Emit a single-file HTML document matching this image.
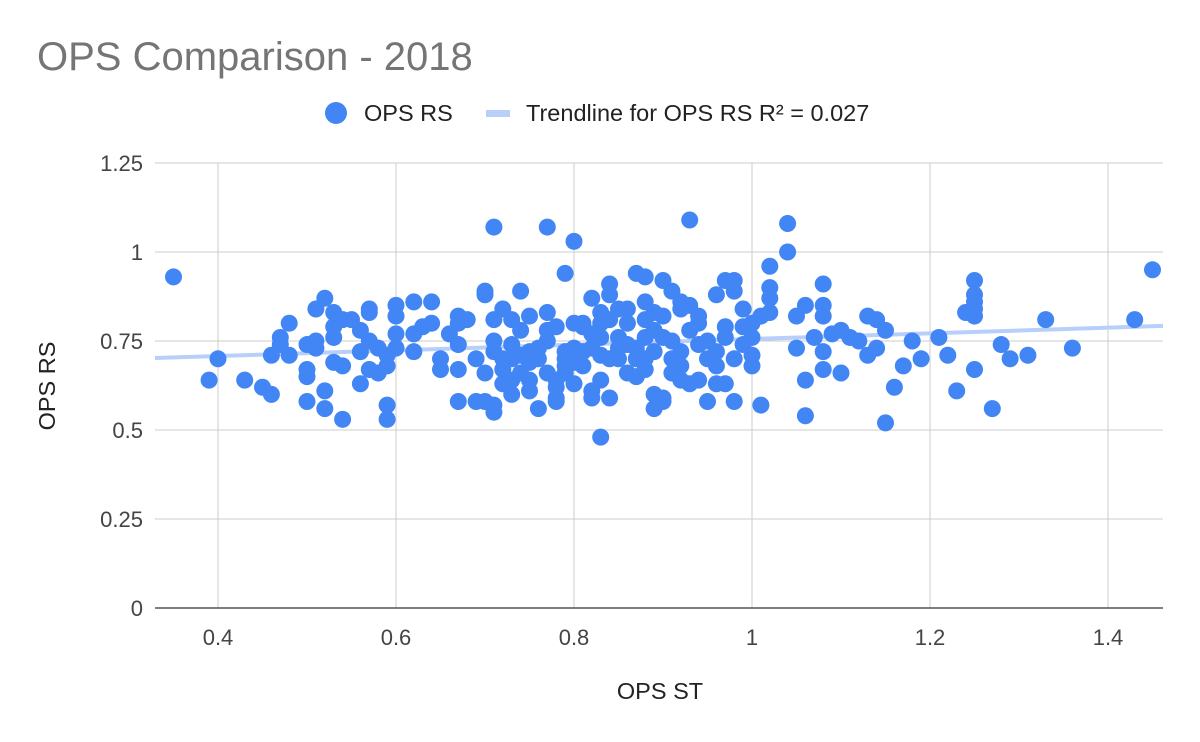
<!DOCTYPE html>
<html><head><meta charset="utf-8"><style>
html,body{margin:0;padding:0;background:#fff;}
svg{display:block;font-family:"Liberation Sans",Arial,sans-serif;}
</style></head><body>
<svg id="chart" width="1200" height="742" viewBox="0 0 1200 742">
<text x="37" y="70" font-size="40" fill="#757575">OPS Comparison - 2018</text>
<g>
<circle cx="336" cy="113" r="11" fill="#4285f4"/>
<text x="364" y="121" font-size="23.5" fill="#222">OPS RS</text>
<rect x="486" y="110" width="24" height="7" fill="#b7cffa"/>
<text x="526" y="121" font-size="23.5" fill="#222">Trendline for OPS RS R² = 0.027</text>
</g>
<g id="grid"></g>
<g id="trend"></g>
<g id="points"></g>
<g id="axes"></g>
<text x="660" y="699" font-size="23.5" text-anchor="middle" fill="#222">OPS ST</text>
<text transform="translate(55,386) rotate(-90)" font-size="23.5" text-anchor="middle" fill="#222">OPS RS</text>
</svg>
<script>
const xTicks=[0.4,0.6,0.8,1,1.2,1.4];
const xTickLabels=["0.4","0.6","0.8","1","1.2","1.4"];
const yTicks=[0,0.25,0.5,0.75,1,1.25];
const yTickLabels=["0","0.25","0.5","0.75","1","1.25"];
const trendSlope=0.0796;
const trendIntercept=0.676;
const opsST=[0.35,0.39,0.40,0.43,0.45,0.46,0.46,0.47,0.47,0.48,0.48,0.50,0.50,0.50,0.50,0.51,0.51,0.51,0.52,0.52,0.52,0.53,0.53,0.53,0.53,0.54,0.54,0.54,0.55,0.56,0.56,0.56,0.57,0.57,0.57,0.57,0.58,0.58,0.59,0.59,0.59,0.59,0.60,0.60,0.60,0.60,0.62,0.62,0.62,0.63,0.64,0.64,0.65,0.65,0.66,0.67,0.67,0.67,0.67,0.67,0.68,0.69,0.69,0.70,0.70,0.70,0.70,0.71,0.71,0.71,0.71,0.71,0.71,0.72,0.72,0.72,0.72,0.73,0.73,0.73,0.73,0.74,0.74,0.74,0.75,0.75,0.75,0.75,0.76,0.76,0.77,0.77,0.77,0.77,0.78,0.78,0.78,0.78,0.79,0.79,0.79,0.79,0.80,0.80,0.80,0.81,0.81,0.81,0.82,0.82,0.82,0.82,0.83,0.83,0.83,0.83,0.83,0.84,0.84,0.84,0.84,0.85,0.85,0.85,0.86,0.86,0.87,0.87,0.87,0.88,0.88,0.88,0.88,0.88,0.89,0.89,0.89,0.90,0.90,0.90,0.90,0.91,0.91,0.92,0.92,0.92,0.93,0.93,0.93,0.94,0.94,0.94,0.94,0.95,0.96,0.96,0.96,0.97,0.97,0.97,0.97,0.98,0.98,0.98,0.98,0.99,0.99,1.00,1.00,1.00,1.00,1.01,1.01,1.02,1.02,1.02,1.02,1.04,1.04,1.05,1.05,1.06,1.06,1.06,1.07,1.08,1.08,1.08,1.08,1.08,1.09,1.10,1.10,1.11,1.12,1.13,1.13,1.14,1.14,1.15,1.15,1.16,1.17,1.18,1.19,1.21,1.22,1.23,1.24,1.25,1.25,1.25,1.25,1.25,1.25,1.27,1.28,1.29,1.31,1.33,1.36,1.43,1.45,0.76,0.79,0.80,0.82,0.84,0.85,0.86,0.87,0.88,0.89,0.91,0.92,0.93,0.95,0.95,0.96,0.99,0.73,0.74,0.75,0.77,0.78,0.80,0.81,0.83,0.86,0.89,0.90,0.91,0.92];
const opsRS=[0.93,0.64,0.70,0.64,0.62,0.60,0.71,0.76,0.74,0.71,0.80,0.74,0.67,0.65,0.58,0.84,0.75,0.73,0.61,0.56,0.87,0.76,0.79,0.83,0.69,0.81,0.68,0.53,0.81,0.63,0.78,0.72,0.75,0.84,0.83,0.67,0.73,0.66,0.71,0.68,0.53,0.57,0.77,0.73,0.85,0.82,0.86,0.77,0.72,0.79,0.86,0.80,0.70,0.67,0.77,0.82,0.80,0.74,0.67,0.58,0.81,0.70,0.58,0.58,0.89,0.88,0.66,0.81,0.57,0.55,1.07,0.75,0.72,0.84,0.70,0.63,0.67,0.81,0.74,0.60,0.64,0.89,0.71,0.78,0.82,0.69,0.64,0.61,0.56,0.73,0.83,0.78,1.07,0.66,0.62,0.59,0.58,0.79,0.70,0.72,0.68,0.94,1.03,0.80,0.73,0.72,0.68,0.80,0.61,0.59,0.77,0.87,0.76,0.83,0.48,0.71,0.64,0.88,0.91,0.81,0.59,0.73,0.70,0.84,0.80,0.66,0.94,0.73,0.65,0.86,0.93,0.76,0.81,0.67,0.56,0.60,0.83,0.92,0.76,0.58,0.59,0.89,0.70,0.86,0.84,0.68,1.09,0.63,0.85,0.82,0.80,0.74,0.64,0.58,0.63,0.72,0.88,0.92,0.79,0.76,0.63,0.92,0.89,0.58,0.70,0.84,0.79,0.71,0.80,0.76,0.68,0.82,0.57,0.96,0.90,0.87,0.83,1.08,1.00,0.82,0.73,0.64,0.54,0.85,0.76,0.85,0.82,0.91,0.72,0.67,0.77,0.66,0.78,0.76,0.75,0.71,0.82,0.73,0.81,0.52,0.78,0.62,0.68,0.75,0.70,0.76,0.71,0.61,0.83,0.92,0.88,0.86,0.84,0.67,0.82,0.56,0.74,0.70,0.71,0.81,0.73,0.81,0.95,0.70,0.66,0.69,0.73,0.70,0.76,0.74,0.70,0.70,0.72,0.75,0.72,0.78,0.75,0.70,0.68,0.74,0.70,0.66,0.72,0.75,0.64,0.63,0.79,0.80,0.84,0.78,0.82,0.66,0.64];

const L=155,R=1163,T=163,B=608;
const xMin=(L+138)/890, xMax=(R+138)/890, yMax=1.25;
const sx=v=>L+(v-xMin)/(xMax-xMin)*(R-L);
const sy=v=>B-(v/yMax)*(B-T);
const NS="http://www.w3.org/2000/svg";
function mk(tag,attrs,parent){const e=document.createElementNS(NS,tag);for(const k in attrs)e.setAttribute(k,attrs[k]);parent.appendChild(e);return e;}
const grid=document.getElementById('grid'),axes=document.getElementById('axes'),pts=document.getElementById('points'),tr=document.getElementById('trend');
yTicks.forEach((t,i)=>{
  const g=mk('line',{x1:L,x2:R,y1:sy(t),y2:sy(t),stroke:t===0?'#333':'#ccc','stroke-width':t===0?1.3:1},t===0?axes:grid);
  
  
  const tx=mk('text',{x:143,y:sy(t)+8,'text-anchor':'end','font-size':22,fill:'#444'},axes);
  tx.textContent=yTickLabels[i];
  
  
});
xTicks.forEach((t,i)=>{
  const g=mk('line',{x1:sx(t),x2:sx(t),y1:T,y2:B,stroke:'#ccc','stroke-width':1},grid);
  
  
  const tx=mk('text',{x:sx(t),y:645,'text-anchor':'middle','font-size':22,fill:'#444'},axes);
  tx.textContent=xTickLabels[i];
  
  
});
const tl=mk('line',{x1:sx(xMin),y1:sy(trendIntercept+trendSlope*xMin),x2:sx(xMax),y2:sy(trendIntercept+trendSlope*xMax),stroke:'#b7cffa','stroke-width':4},tr);


opsST.forEach((x,i)=>{
  const c=mk('circle',{cx:sx(x),cy:sy(opsRS[i]),r:8.5,fill:'#4285f4'},pts);
  
  
});
</script>
</body></html>
